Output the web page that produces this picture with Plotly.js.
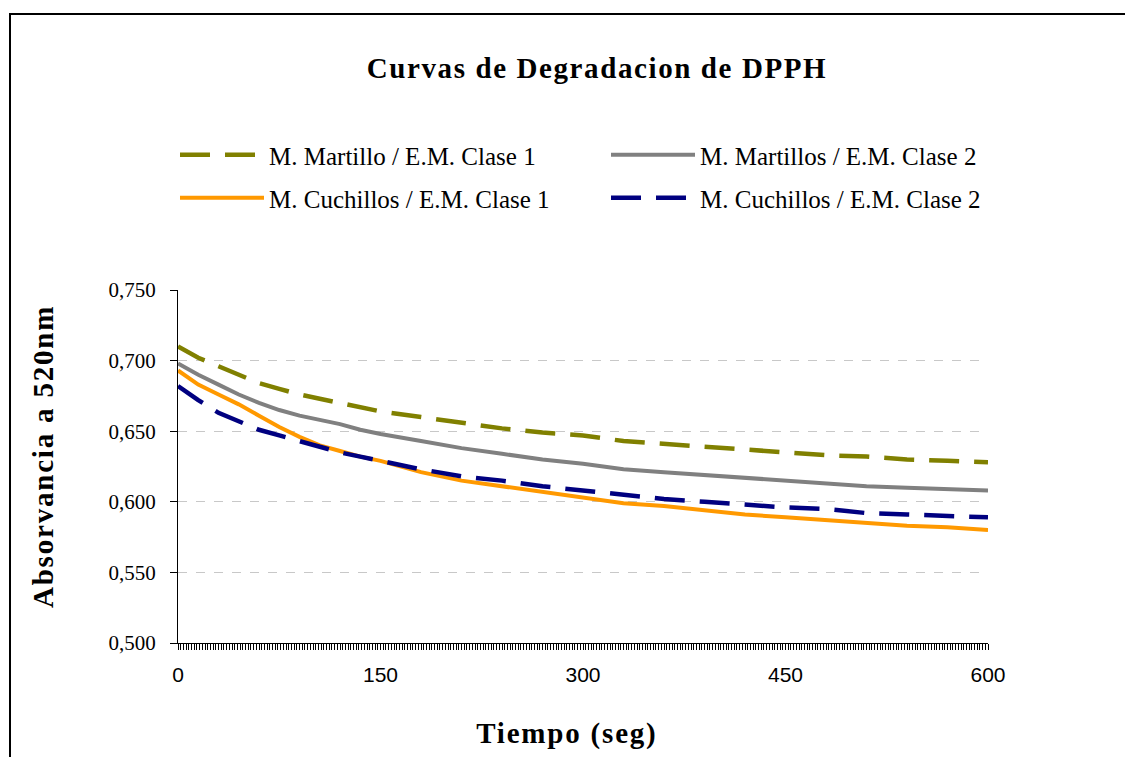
<!DOCTYPE html>
<html>
<head>
<meta charset="utf-8">
<script src="https://cdn.plot.ly/plotly-3.0.1.min.js"></script>
<style>
html,body{margin:0;padding:0;background:#fff;}
#chart .gtitle{letter-spacing:1.6px;}
#chart .annotation-text{letter-spacing:1.8px;}
</style>
</head>
<body>
<div id="chart" style="width:1125px;height:757px;"></div>
<script>
// Time (seconds)
const tiempo = [0,15,30,45,60,75,90,105,120,135,150,180,210,240,270,300,330,360,390,420,450,480,510,540,570,600];
// Absorbance at 520 nm
const martilloClase1 = [0.710,0.702,0.696,0.690,0.684,0.680,0.676,0.673,0.670,0.667,0.664,0.660,0.656,0.652,0.649,0.647,0.643,0.641,0.639,0.637,0.635,0.633,0.632,0.630,0.629,0.628];
const martillosClase2 = [0.698,0.690,0.683,0.676,0.670,0.665,0.661,0.658,0.655,0.651,0.648,0.643,0.638,0.634,0.630,0.627,0.623,0.621,0.619,0.617,0.615,0.613,0.611,0.610,0.609,0.608];
const cuchillosClase1 = [0.693,0.683,0.676,0.669,0.661,0.653,0.646,0.640,0.636,0.632,0.629,0.621,0.615,0.611,0.607,0.603,0.599,0.597,0.594,0.591,0.589,0.587,0.585,0.583,0.582,0.580];
const cuchillosClase2 = [0.682,0.672,0.663,0.657,0.651,0.647,0.643,0.639,0.635,0.632,0.629,0.623,0.618,0.615,0.611,0.608,0.605,0.602,0.600,0.598,0.596,0.595,0.592,0.591,0.590,0.589];

const seriesNames = ["M. Martillo / E.M. Clase 1","M. Martillos / E.M. Clase 2","M. Cuchillos / E.M. Clase 1","M. Cuchillos / E.M. Clase 2"];
const xTickVals = [0,150,300,450,600];
const yTickVals = [0.5,0.55,0.6,0.65,0.7,0.75];

const serif = "Liberation Serif, Times New Roman, serif";
const sans = "Liberation Sans, Arial, sans-serif";

const traces = [
  {x: tiempo, y: martilloClase1, name: seriesNames[0], mode: 'lines', legend: 'legend',
   line: {color: '#808000', width: 4.5, dash: '30px,15px'}},
  {x: tiempo, y: martillosClase2, name: seriesNames[1], mode: 'lines', legend: 'legend2',
   line: {color: '#808080', width: 4}},
  {x: tiempo, y: cuchillosClase1, name: seriesNames[2], mode: 'lines', legend: 'legend3',
   line: {color: '#FF9900', width: 4}},
  {x: tiempo, y: cuchillosClase2, name: seriesNames[3], mode: 'lines', legend: 'legend4',
   line: {color: '#000080', width: 4.5, dash: '30px,15px'}}
];

function px2x(px){ return (px - 178) / 810; }
function px2y(py){ return (643 - py) / 353; }

function legendAt(xpx, ypx){
  return {x: px2x(xpx), y: px2y(ypx), xanchor: 'left', yanchor: 'middle',
    bgcolor: 'rgba(0,0,0,0)', borderwidth: 0, itemwidth: 84,
    font: {family: serif, size: 25, color: '#000'}};
}

const layout = {
  width: 1125, height: 757,
  margin: {l: 178, r: 137, t: 290, b: 114},
  paper_bgcolor: '#fff', plot_bgcolor: '#fff',
  separators: ',.',
  showlegend: true,
  title: {text: '<b>Curvas de Degradacion de DPPH</b>', x: px2x(597), xref: 'paper',
    y: 1 - 68/757, yref: 'container', xanchor: 'center', yanchor: 'middle',
    font: {family: serif, size: 29, color: '#000'}},
  xaxis: {
    range: [0, 600], tickvals: xTickVals, ticktext: xTickVals.map(String),
    showgrid: false, zeroline: false,
    showline: true, linecolor: '#000', linewidth: 1,
    ticks: 'outside', ticklen: 6, tickcolor: '#000', tickwidth: 1,
    minor: {dtick: 2, tick0: 0, ticks: 'outside', ticklen: 6, tickcolor: '#000', tickwidth: 1, showgrid: false},
    tickfont: {family: sans, size: 21, color: '#000'},
    ticklabelstandoff: 7
  },
  yaxis: {
    range: [0.5, 0.75], tickvals: yTickVals, tickformat: '.3f',
    showgrid: true, gridcolor: '#c8c8c8', griddash: 'dash', gridwidth: 1,
    zeroline: false, showline: true, linecolor: '#000', linewidth: 1,
    ticks: 'outside', ticklen: 7, tickcolor: '#000', tickwidth: 1,
    tickfont: {family: serif, size: 21, color: '#000'},
    ticklabelstandoff: 10
  },
  legend: legendAt(175, 155),
  legend2: legendAt(606, 155),
  legend3: legendAt(175, 198),
  legend4: legendAt(606, 198),
  annotations: [
    {text: '<b>Tiempo (seg)</b>', xref: 'paper', yref: 'paper', x: px2x(567), y: px2y(733),
     xanchor: 'center', yanchor: 'middle', showarrow: false,
     font: {family: serif, size: 29, color: '#000'}},
    {text: '<b>Absorvancia a 520nm</b>', xref: 'paper', yref: 'paper', x: px2x(43), y: px2y(457),
     xanchor: 'center', yanchor: 'middle', showarrow: false, textangle: -90,
     font: {family: serif, size: 29, color: '#000'}}
  ],
  shapes: [
    {type: 'rect', xref: 'paper', yref: 'paper', x0: px2x(10), x1: px2x(1140), y0: px2y(780), y1: px2y(14),
     line: {color: '#000', width: 2}, fillcolor: 'rgba(0,0,0,0)', layer: 'below'}
  ]
};

Plotly.newPlot('chart', traces, layout, {displayModeBar: false, staticPlot: true});
</script>
</body>
</html>
